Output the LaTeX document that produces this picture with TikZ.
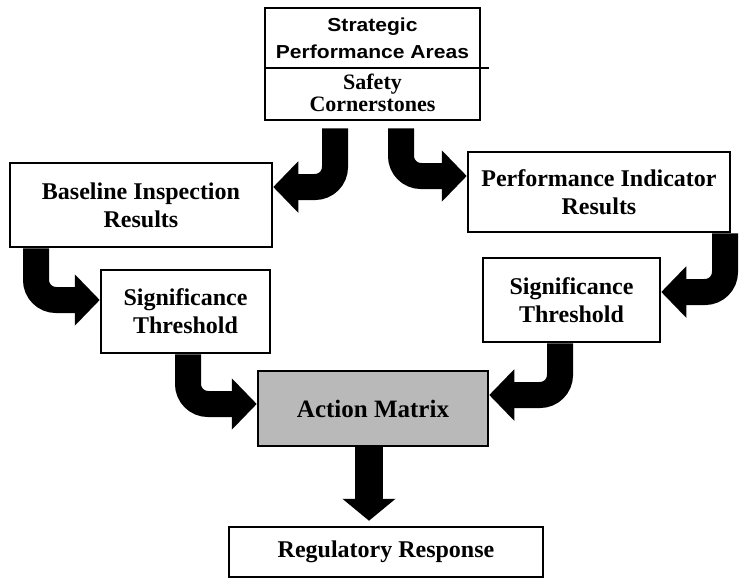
\documentclass[tikz,border=0pt]{standalone}
\usepackage{fontspec}
\setmainfont{Liberation Serif}
\newfontfamily\spafont[FakeStretch=1.12]{Liberation Sans}
\usepackage{tikz}
\usetikzlibrary{positioning, arrows.meta, calc}

\begin{document}
\begin{tikzpicture}[
    x=1pt, y=-1pt,
    box/.style = {draw, line width=2.5pt, fill=white, inner sep=0pt, align=center,
                  font=\fontsize{24}{28}\selectfont\bfseries},
    txt/.style = {draw=none, align=center},
    bigarr/.style = {line width=26pt, rounded corners=20pt,
                     -{Triangle[length=25pt, width=50pt]}}
]
\useasboundingbox (0,0) rectangle (740,582);

% Top box
\node[box, minimum width=215pt, minimum height=112pt] (spa) at (372.5,64) {};
\node[txt, font=\spafont\fontsize{18.8}{27}\selectfont\bfseries] (spatop) at (372.5,38) {Strategic\\Performance Areas};
\node[txt, font=\fontsize{22}{22}\selectfont\bfseries] (spabot) at (372.5,93) {Safety\\Cornerstones};
\draw[line width=2.5pt] (spa.west |- 0,68) -- ([xshift=8pt]spa.east |- 0,68);

% Results boxes
\node[box, minimum width=262pt, minimum height=84pt] (bir) at (141,205) {Baseline Inspection\\Results};
\node[box, minimum width=262pt, minimum height=80pt] (pir) at (599,192) {Performance Indicator\\Results};

% Thresholds
\node[box, minimum width=169pt, minimum height=83pt] (st1) at (185.5,311.5) {Significance\\Threshold};
\node[box, minimum width=177pt, minimum height=84pt] (st2) at (571.5,300) {Significance\\Threshold};

% Action matrix and response
\node[box, fill=gray!55, minimum width=230pt, minimum height=75pt,
      font=\fontsize{25}{28}\selectfont\bfseries] (am) at (373,408.5) {Action Matrix};
\node[box, minimum width=314pt, minimum height=50pt] (rr) at (386,552) {Regulatory Response};

\draw[bigarr] ([xshift=-37.5pt, yshift=-7pt]spa.south) |- ([yshift=18pt]bir.east);
\draw[bigarr] ([xshift=28.5pt, yshift=-7pt]spa.south) |- ([yshift=16pt]pir.west);
\draw[bigarr] ([xshift=-105pt]bir.south) |- ([yshift=11.5pt]st1.west);
\draw[bigarr] ([xshift=126pt]pir.south) |- ([yshift=8pt]st2.east);
\draw[bigarr] ([xshift=2.5pt]st1.south) |- ([yshift=4.5pt]am.west);
\draw[bigarr] ([xshift=-11.5pt]st2.south) |- ([yshift=13.5pt]am.east);
\draw[bigarr, line width=28pt, -{Triangle[length=22pt, width=52pt]}]
    ([xshift=-4pt]am.south) -- ([xshift=-17pt, yshift=5pt]rr.north);

\end{tikzpicture}
\end{document}
